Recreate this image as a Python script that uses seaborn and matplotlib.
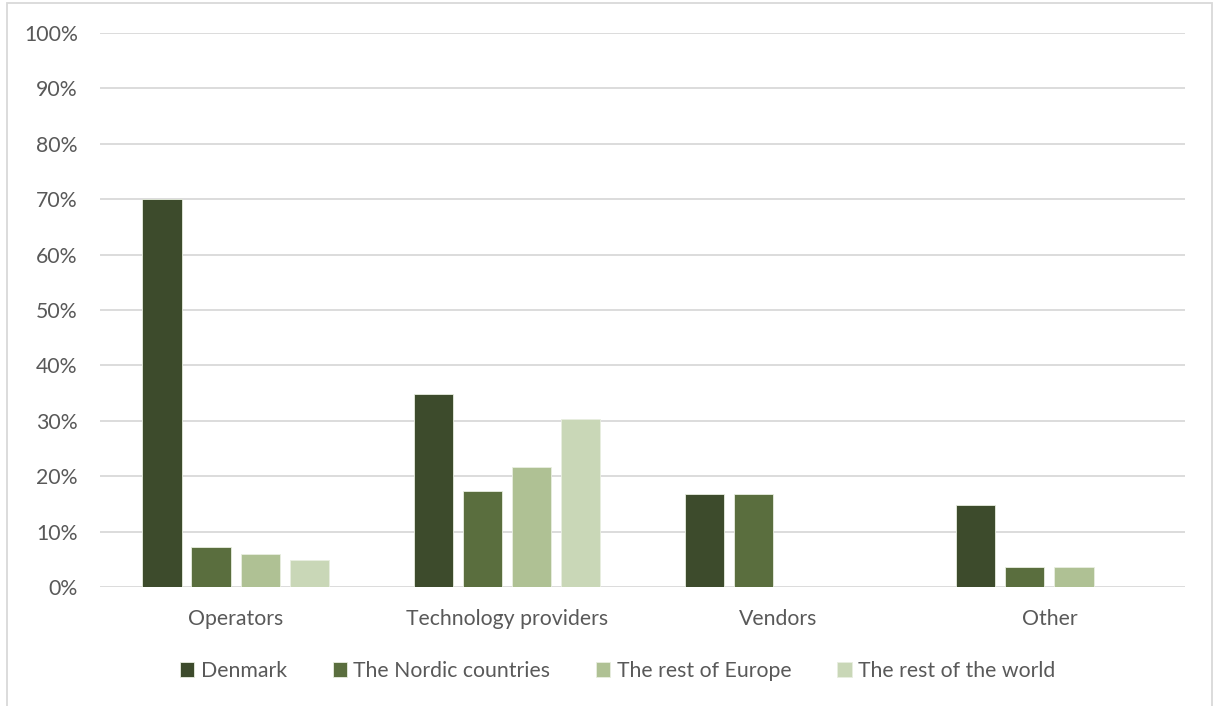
import matplotlib
matplotlib.use("Agg")
import matplotlib.pyplot as plt
from matplotlib.patches import Rectangle
from matplotlib.ticker import FuncFormatter
import seaborn as sns
import pandas as pd

categories = ["Operators", "Technology providers", "Vendors", "Other"]
regions = ["Denmark", "The Nordic countries", "The rest of Europe", "The rest of the world"]
denmark = [70.0, 34.8, 16.7, 14.8]
nordic = [7.2, 17.4, 16.7, 3.7]
rest_europe = [6.0, 21.7, 0.0, 3.7]
rest_world = [4.8, 30.4, 0.0, 0.0]
colors = ["#3E5027", "#5B7636", "#B0C98C", "#C9DCB2"]
y_ticks = list(range(0, 101, 10))

rows = []
for region, vals in zip(regions, [denmark, nordic, rest_europe, rest_world]):
    for cat, v in zip(categories, vals):
        rows.append({"category": cat, "region": region, "share": v})
df = pd.DataFrame(rows)

sns.set_theme(style="white")
plt.rcParams["font.family"] = ["Lato", "DejaVu Sans"]
text_color = "#595959"
fs = 15.3

fig = plt.figure(figsize=(12.14, 7.06), dpi=100)
ax = fig.add_axes([100 / 1214, 1 - 587 / 706, 1085 / 1214, 554 / 706])

sns.barplot(data=df, x="category", y="share", hue="region", order=categories,
            hue_order=regions, palette=colors, width=0.723, gap=0.2,
            edgecolor="#E8EEE0", linewidth=0.6, ax=ax, legend=True, zorder=3)

ax.set_ylim(0, 100)
ax.set_xlim(-0.5, len(categories) - 0.5)
ax.set_yticks(y_ticks)
ax.yaxis.set_major_formatter(FuncFormatter(lambda v, _: f"{int(v)}%"))
ax.grid(axis="y", color="#D9D9D9", linewidth=1.3, zorder=0)
ax.grid(axis="x", visible=False)
for s in ax.spines.values():
    s.set_visible(False)
ax.tick_params(axis="both", length=0, colors=text_color, labelsize=fs)
ax.tick_params(axis="y", pad=16)
ax.tick_params(axis="x", pad=16)
ax.set_xlabel("")
ax.set_ylabel("")

handles, labels = ax.get_legend_handles_labels()
ax.legend(handles, labels, loc="center", bbox_to_anchor=(0.477, -0.152), ncol=4,
          frameon=False, fontsize=fs, labelcolor=text_color, handlelength=0.68,
          handleheight=0.68, handletextpad=0.3, columnspacing=2.15)

fig.patches.append(Rectangle((7 / 1214, -0.05), 1205 / 1214, 1.05 - 3 / 706,
                             transform=fig.transFigure, fill=False,
                             edgecolor="#D9D9D9", linewidth=1.3, zorder=0))

fig.savefig("out.png", dpi=100, facecolor="white")
